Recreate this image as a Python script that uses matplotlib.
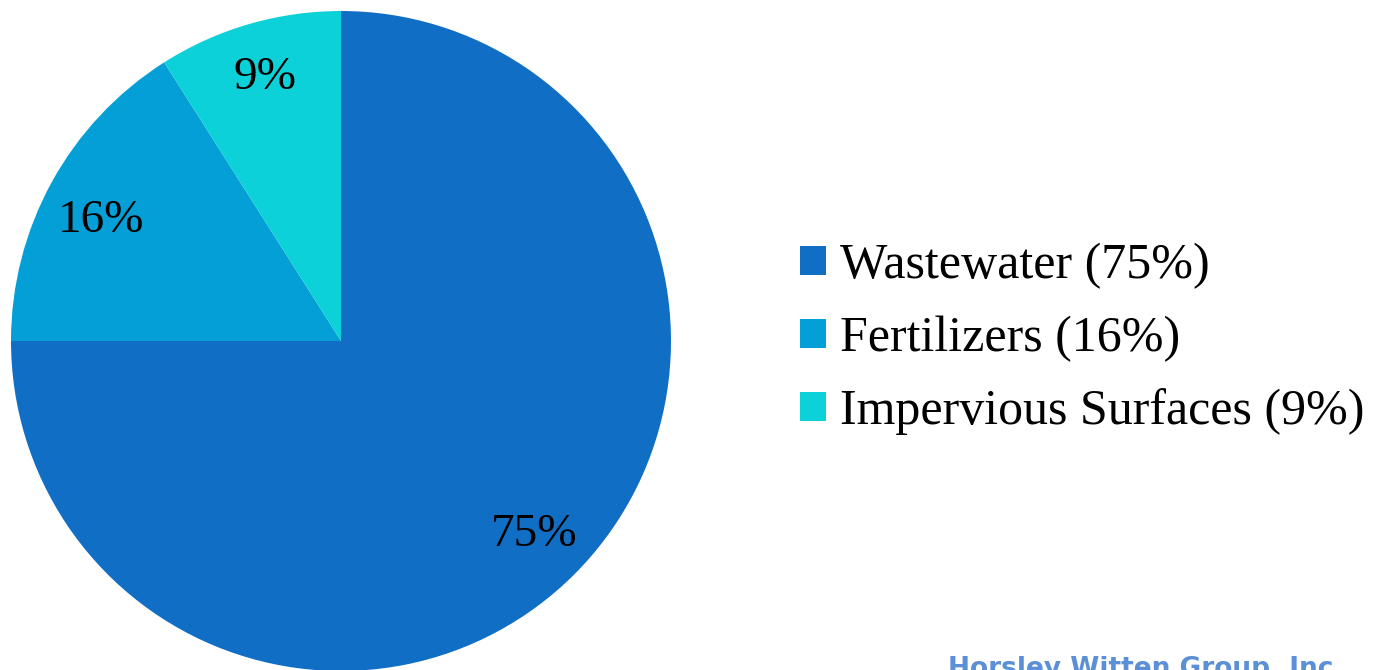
import matplotlib
matplotlib.use("Agg")
import matplotlib.pyplot as plt

# Nutrient source shares
categories = ["Wastewater", "Fertilizers", "Impervious Surfaces"]
shares = [75, 16, 9]
colors = ["#106EC4", "#039FD6", "#0DD1D9"]

W, H = 1376, 670
fig = plt.figure(figsize=(W / 100, H / 100), dpi=100)
fig.patch.set_facecolor("white")
ax = fig.add_axes([0, 0, 1, 1])

wedges, texts, autotexts = ax.pie(
    shares,
    colors=colors,
    startangle=90,
    counterclock=False,
    center=(341, H - 341),
    radius=330,
    autopct=lambda p: f"{p:.0f}%",
    pctdistance=0.83,
    textprops=dict(family="Liberation Serif", fontsize=34, color="black"),
    wedgeprops=dict(linewidth=0),
    frame=True,
)
ax.set_xlim(0, W)
ax.set_ylim(0, H)
ax.set_aspect("equal")
ax.axis("off")

# the 16% label sits a little lower in the original
x16, y16 = autotexts[1].get_position()
autotexts[1].set_position((x16, y16 - 12))

legend_labels = [f"{c} ({s}%)" for c, s in zip(categories, shares)]
leg = ax.legend(
    wedges, legend_labels,
    loc="center left",
    bbox_to_anchor=(800 / W, 1 - 339 / H),
    bbox_transform=fig.transFigure,
    frameon=False,
    prop=dict(family="Liberation Serif", size=36),
    handlelength=0.52, handleheight=0.52,
    handletextpad=0.28, labelspacing=0.53,
    borderpad=0, borderaxespad=0,
)

fig.text(948 / W, 1 - 656 / H, "Horsley Witten Group, Inc.", ha="left", va="top",
         fontsize=19, fontweight="bold", color="#5B8FD6", family="DejaVu Sans")

fig.savefig("out.png", dpi=100, facecolor=fig.get_facecolor())
